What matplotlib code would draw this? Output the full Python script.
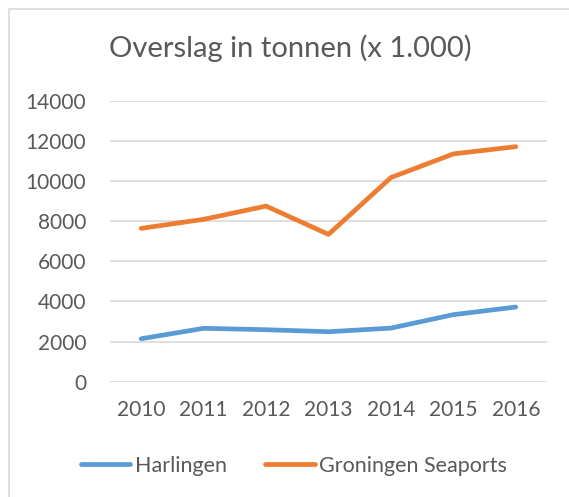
import matplotlib
matplotlib.use('Agg')
from matplotlib import pyplot as plt
from matplotlib.patches import Rectangle

# data
years = ['2010', '2011', '2012', '2013', '2014', '2015', '2016']
harlingen = [2140, 2660, 2590, 2490, 2670, 3340, 3720]
groningen = [7640, 8090, 8750, 7340, 10170, 11350, 11710]
yticks = [0, 2000, 4000, 6000, 8000, 10000, 12000, 14000]

plt.rcParams['font.family'] = ['Lato', 'DejaVu Sans']
txt = '#595959'

fig = plt.figure(figsize=(5.69, 4.97), dpi=100)
fig.patch.set_facecolor('white')

# chart border (cut off on the right and bottom)
fig.patches.append(Rectangle((9 / 569, -0.1), 1.2, 1.1 - 9 / 497,
                             transform=fig.transFigure, fill=False,
                             edgecolor='#D9D9D9', linewidth=1.2))

ax = fig.add_axes([110 / 569, 1 - 381.7 / 497, 437 / 569, (381.7 - 100.7) / 497])
x = list(range(len(years)))
ax.plot(x, harlingen, color='#5B9BD5', lw=3.4, solid_capstyle='round', label='Harlingen')
ax.plot(x, groningen, color='#ED7D31', lw=3.4, solid_capstyle='round', label='Groningen Seaports')

ax.set_xlim(-0.5, len(years) - 0.5)
ax.set_ylim(0, 14000)
ax.set_yticks(yticks)
ax.set_xticks(x)
ax.set_xticklabels(years)
ax.grid(axis='y', color='#D9D9D9', lw=1.2)
ax.set_axisbelow(True)
for s in ax.spines.values():
    s.set_visible(False)
ax.tick_params(length=0, colors=txt, labelsize=15)
ax.tick_params(axis='y', pad=17)
ax.tick_params(axis='x', pad=13)

fig.text(290 / 569, 1 - 48 / 497, 'Overslag in tonnen (x 1.000)', ha='center', va='center',
         fontsize=21, color=txt)

fig.legend(loc='center', bbox_to_anchor=(294 / 569, 1 - 466 / 497), ncol=2, frameon=False,
           fontsize=15.5, labelcolor=txt, handlelength=2.3, handletextpad=0.2, columnspacing=1.8)

fig.savefig('out.png', dpi=100)
